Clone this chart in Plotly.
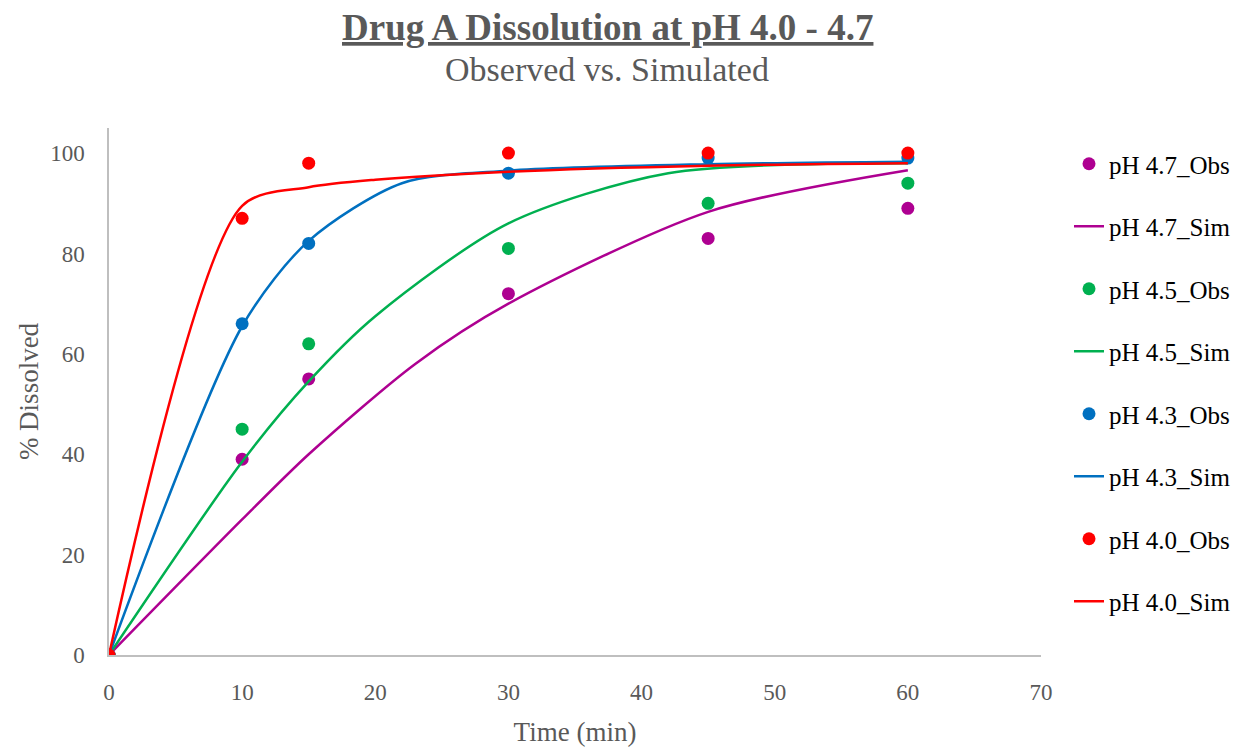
import plotly.graph_objects as go

# ---- data ----
time_obs = [0, 10, 15, 30, 45, 60]
obs_ph47 = [0, 39, 55, 72, 83, 89]
obs_ph45 = [0, 45, 62, 81, 90, 94]
obs_ph43 = [0, 66, 82, 96, 99, 99]
obs_ph40 = [0, 87, 98, 100, 100, 100]

sim_t_ph47 = [0, 10, 15, 23, 30, 45, 60]
sim_ph47 = [0, 27, 40, 58, 70, 88.3, 96.6]
sim_t_ph45 = [0, 10, 15, 20, 30, 42, 60]
sim_ph45 = [0, 38.5, 54.5, 67.5, 86, 96, 98]
sim_t_ph43 = [0, 10, 15, 22, 30, 45, 60]
sim_ph43 = [0, 65.5, 82.5, 94, 96.5, 97.8, 98.3]
sim_t_ph40 = [0, 10, 15, 20, 30, 45, 60]
sim_ph40 = [0, 89.5, 93.2, 94.7, 96.3, 97.5, 98]

x_ticks = [0, 10, 20, 30, 40, 50, 60, 70]
y_ticks = [0, 20, 40, 60, 80, 100]

series = [
    ("pH 4.7", "#AE0091", obs_ph47, sim_t_ph47, sim_ph47),
    ("pH 4.5", "#00B050", obs_ph45, sim_t_ph45, sim_ph45),
    ("pH 4.3", "#0070C0", obs_ph43, sim_t_ph43, sim_ph43),
    ("pH 4.0", "#FF0000", obs_ph40, sim_t_ph40, sim_ph40),
]

FONT = "Liberation Serif"
GREY = "#595959"

fig = go.Figure()
for name, color, obs, st, sv in series:
    fig.add_trace(go.Scatter(
        x=time_obs, y=obs, mode="markers", name=f"{name}_Obs",
        legendgroup=f"{name}_Obs",
        marker=dict(color=color, size=13),
    ))
    fig.add_trace(go.Scatter(
        x=st, y=sv, mode="lines", name=f"{name}_Sim",
        legendgroup=f"{name}_Sim",
        line=dict(color=color, width=2.5, shape="spline", smoothing=0.8),
    ))

L, R, T, B = 109, 197, 128, 92
W, H = 1238, 747
ph = H - T - B
pw = W - L - R

def py(px):
    return (H - B - px) / ph

def pxx(px):
    return (px - L) / pw

fig.add_annotation(text="<u><b>Drug A Dissolution at pH 4.0 - 4.7</b></u>",
                   xref="paper", yref="paper", x=pxx(607), y=py(27),
                   xanchor="center", yanchor="middle",
                   showarrow=False, font=dict(family=FONT, size=37, color=GREY))
fig.add_annotation(text="Observed vs. Simulated",
                   xref="paper", yref="paper", x=pxx(607), y=py(70),
                   xanchor="center", yanchor="middle",
                   showarrow=False, font=dict(family=FONT, size=34, color=GREY))

fig.update_layout(
    width=W, height=H,
    margin=dict(l=L, r=R, t=T, b=B, autoexpand=False),
    paper_bgcolor="white", plot_bgcolor="white",
    font=dict(family=FONT, color=GREY, size=23),
    showlegend=True,
    legend=dict(xref="container", yref="container",
                x=1069 / W, y=1 - 141 / H, xanchor="left", yanchor="top",
                maxheight=600,
                traceorder="grouped", tracegroupgap=27,
                font=dict(family=FONT, size=25, color="#000000"),
                bgcolor="rgba(0,0,0,0)"),
    xaxis=dict(range=[0, 70], tickvals=x_ticks, showgrid=False, zeroline=False,
               showline=True, linecolor="#BFBFBF", linewidth=1.5, ticks="",
               automargin=False,
               ticklabelstandoff=16, tickfont=dict(size=23, color=GREY),
               title=dict(text="Time (min)", font=dict(size=27, color=GREY), standoff=18)),
    yaxis=dict(range=[0, 105], tickvals=y_ticks, showgrid=False, zeroline=False,
               showline=True, linecolor="#BFBFBF", linewidth=1.5, ticks="",
               automargin=False,
               ticklabelstandoff=18, tickfont=dict(size=23, color=GREY),
               title=dict(text="% Dissolved", font=dict(size=27, color=GREY), standoff=4)),
)

fig.write_html("out.html")
